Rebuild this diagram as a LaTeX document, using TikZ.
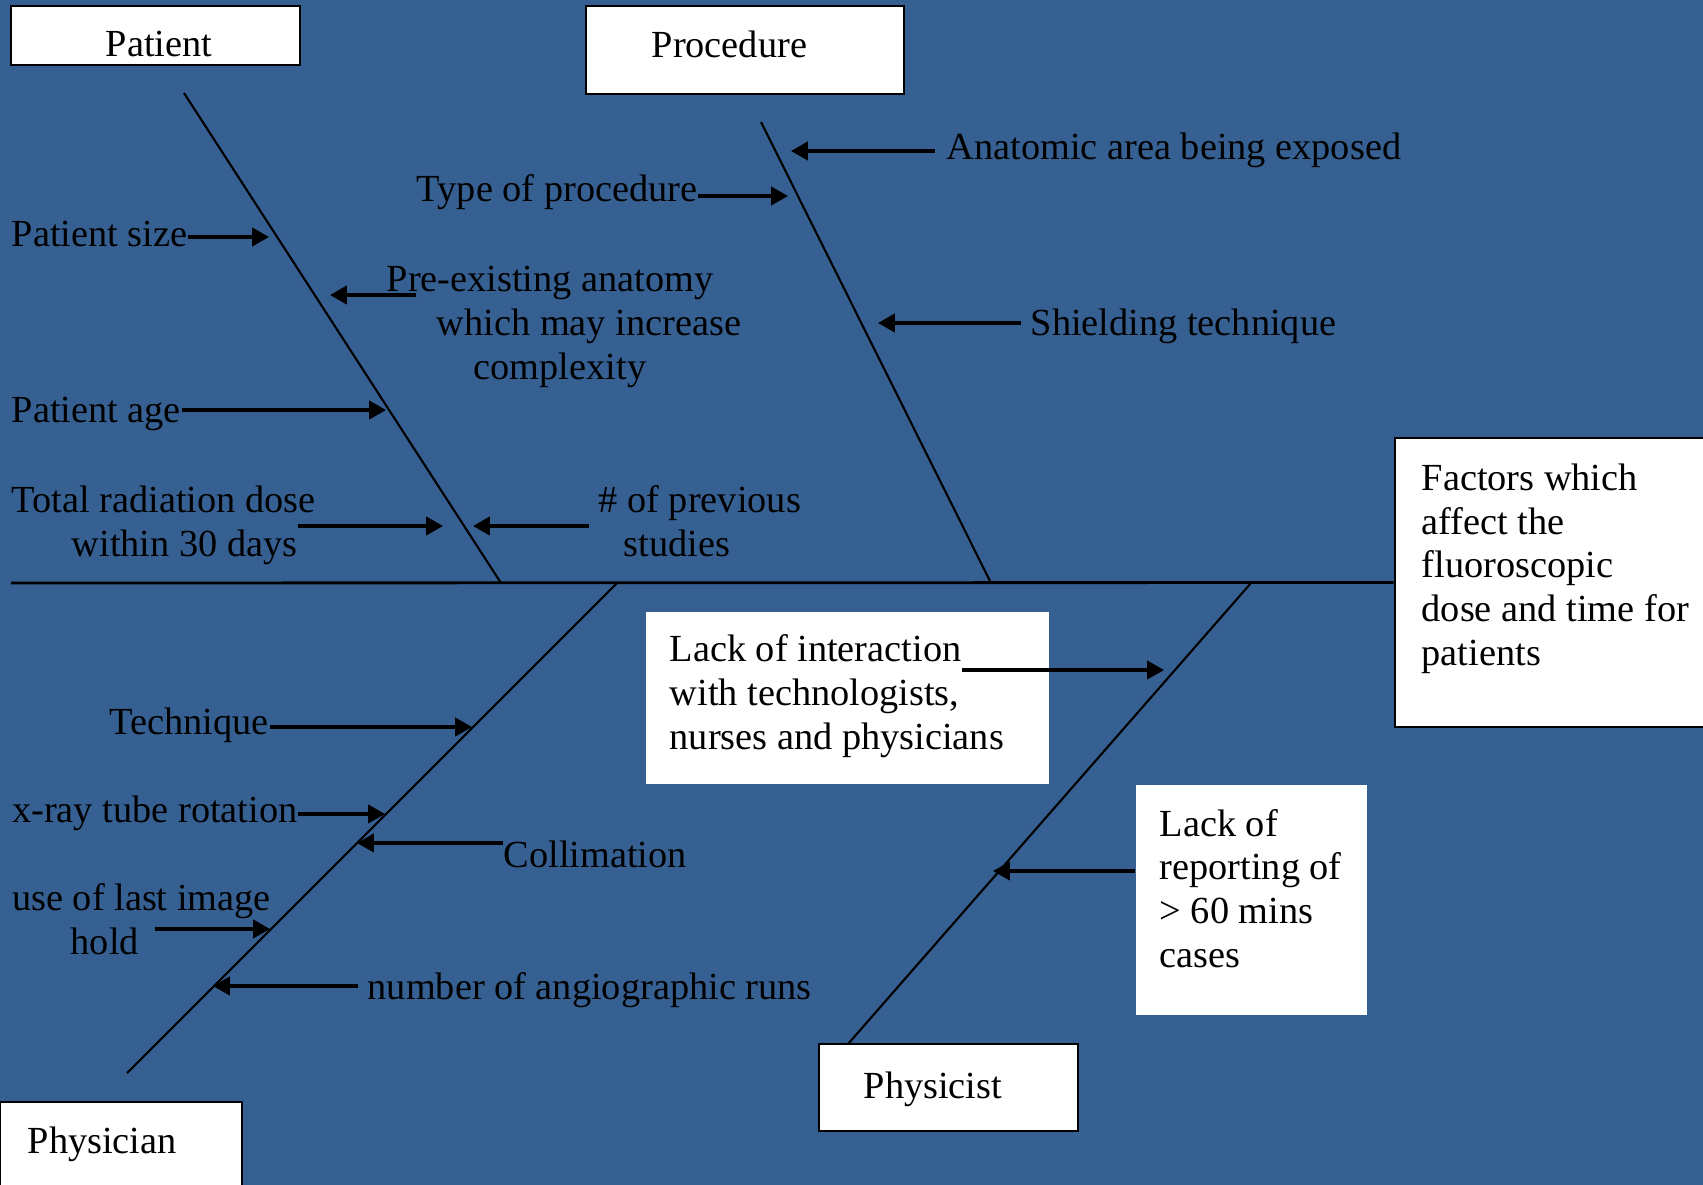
\documentclass[tikz,border=0pt]{standalone}
\usepackage{fontspec}
\setmainfont{Liberation Serif}
\usetikzlibrary{arrows.meta}
\definecolor{fishblue}{RGB}{54,96,146}
\tikzset{
  box/.style={draw,fill=white,line width=0.7pt,inner sep=0pt},
  plainbox/.style={fill=white,inner sep=0pt},
  lbl/.style={inner sep=0pt,anchor=base west,align=left,yshift=-0.03cm},
  bone/.style={line width=0.6pt},
  arr/.style={line width=0.9pt,-{Triangle[length=4.8pt,width=5.2pt]}}
}
\begin{document}
\begin{tikzpicture}[x=0.01cm,y=-0.01cm,font=\fontsize{10.9}{12.4}\selectfont]
\useasboundingbox (0,0) rectangle (1703,1185);
\clip (0,0) rectangle (1703,1185);
\fill[fishblue] (0,0) rectangle (1703,1185);

% effect box and spine
\node[box,minimum width=3.30cm,minimum height=2.89cm] (beff) at (1560,582.5) {};
\draw[line width=0.8pt] (11,583) -- (beff.west);

% bones
\draw[bone] (184,93) -- (501,583);
\draw[bone] (761,122) -- (991,583);
\draw[bone] (617,583) -- (127,1073);
\draw[bone] (1251,583) -- (848,1044);

% category boxes
\node[box,minimum width=2.89cm,minimum height=0.59cm] (bpat) at (155.5,35.5) {};
\node[box,minimum width=3.18cm,minimum height=0.88cm] (bproc) at (745,50) {};
\node[box,minimum width=2.42cm,minimum height=0.98cm] (bphysn) at (121,1151) {};
\node[box,minimum width=2.59cm,minimum height=0.87cm] (bphyst) at (948.5,1087.5) {};
\node[plainbox,minimum width=4.03cm,minimum height=1.72cm] (binter) at (847.5,698) {};
\node[plainbox,minimum width=2.31cm,minimum height=2.30cm] (brep) at (1251.5,900) {};

\node[lbl] (patient) at (105,54) {Patient};
\node[lbl] (procedure) at (651,55) {Procedure};
\node[lbl] (physician) at (27,1150) {Physician};
\node[lbl] (physicist) at (863,1095) {Physicist};
% multi-line labels sit on their last line
\node[lbl] (effect) at (1421,662) {Factors which\\affect the\\fluoroscopic\\dose and time for\\patients};

% causes
\node[lbl] (anat) at (946,157) {Anatomic area being exposed};
\node[lbl,anchor=base east] (typ) at (698,198) {Type of procedure};
\node[lbl] (shield) at (1030,332) {Shielding technique};
\node[lbl] (psize) at (11,243) {Patient size};
\node[lbl] (preex) at (386,376) {Pre-existing anatomy\\\hspace*{0.5cm}which may increase\\\hspace*{0.87cm}complexity};
\node[lbl] (page) at (11,419) {Patient age};
\node[lbl] (tot) at (11,553) {Total radiation dose\\\hspace*{0.6cm}within 30 days};
\node[lbl] (prev) at (598,553) {\# of previous\\\hspace*{0.25cm}studies};
\node[lbl] (tech) at (109,731) {Technique};
\node[lbl] (xray) at (11.5,819) {x-ray tube rotation};
\node[lbl] (coll) at (503,864) {Collimation};
\node[lbl] (last) at (11.5,951) {use of last image\\\hspace*{0.585cm}hold};
\node[lbl] (angio) at (367,996) {number of angiographic runs};
\node[lbl] (inter) at (669,746) {Lack of interaction\\with technologists,\\nurses and physicians};
\node[lbl] (rep) at (1159,964) {Lack of\\reporting of\\> 60 mins\\cases};

% arrow ends
\coordinate (t-anat) at (791,151);
\coordinate (t-typ) at (788,196);
\coordinate (t-shield) at (878,323);
\coordinate (t-psize) at (269,237);
\coordinate (t-preex) at (330,295);
\coordinate (t-page) at (386,410);
\coordinate (t-tot) at (443,526);
\coordinate (t-prev) at (473,526);
\coordinate (t-tech) at (472,727);
\coordinate (t-xray) at (385,814);
\coordinate (t-coll) at (357,843);
\coordinate (t-last) at (270,929);
\coordinate (t-angio) at (213,986);
\coordinate (t-inter) at (1164,670);
\coordinate (t-rep) at (993,871);
\coordinate (s-anat) at (935,151);
\coordinate (s-shield) at (1021,323);
\coordinate (s-preex) at (416,295);
\coordinate (s-tot) at (298,526);
\coordinate (s-prev) at (589,526);
\coordinate (s-last) at (155,929);
\coordinate (s-angio) at (358,986);
\coordinate (s-inter) at (962,670);

\draw[arr] (s-anat) -- (t-anat);
\draw[arr] (typ.east |- t-typ) -- (t-typ);
\draw[arr] (s-shield) -- (t-shield);
\draw[arr] (psize.east |- t-psize) -- (t-psize);
\draw[arr] (s-preex) -- (t-preex);
\draw[arr] (page.east |- t-page) -- (t-page);
\draw[arr] (s-tot) -- (t-tot);
\draw[arr] (s-prev) -- (t-prev);
\draw[arr] (tech.east |- t-tech) -- (t-tech);
\draw[arr] (xray.east |- t-xray) -- (t-xray);
\draw[arr] (coll.west |- t-coll) -- (t-coll);
\draw[arr] (s-last) -- (t-last);
\draw[arr] (s-angio) -- (t-angio);
\draw[arr] (s-inter) -- (t-inter);
\draw[arr] (brep.west |- t-rep) -- (t-rep);
\end{tikzpicture}
\end{document}
